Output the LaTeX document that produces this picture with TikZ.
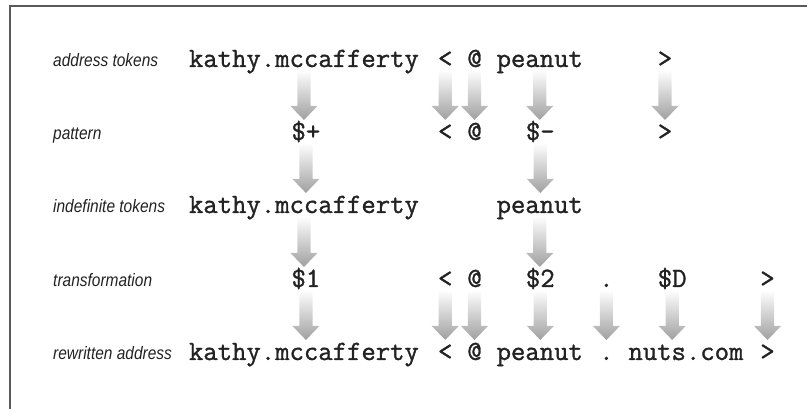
\documentclass[tikz,border=0pt]{standalone}
\usepackage{fontspec}
\usetikzlibrary{calc}
\newfontfamily\tokfont[FakeBold=1.2]{Latin Modern Mono}
\newfontfamily\lblfont[FakeStretch=0.86]{Liberation Sans}
\definecolor{inkc}{HTML}{222222}
\definecolor{framec}{HTML}{5A5A5A}
\definecolor{arrowend}{HTML}{A0A0A0}

% shaded down-arrow from one token to the token below it
\newcommand\shadearrow[2]{%
  \path[arrowfill] let \p1=(#1.base), \p2=(#2.base) in
    (\x1-6.6pt,\y1-3pt) -- (\x1+6.6pt,\y1-3pt) -- (\x1+6.6pt,\y2+34pt)
    -- (\x1+13.5pt,\y2+34pt) -- (\x1,\y2+20pt) -- (\x1-13.5pt,\y2+34pt)
    -- (\x1-6.6pt,\y2+34pt) -- cycle;}

\begin{document}
\begin{tikzpicture}[x=1pt,y=1pt,
  tok/.style={font=\tokfont\fontsize{27.9}{30}\selectfont,
    text=inkc, inner sep=0pt, outer sep=0pt, anchor=base west},
  lbl/.style={font=\lblfont\itshape\fontsize{18}{20}\selectfont,
    text=inkc, inner sep=0pt, anchor=base west},
  arrowfill/.style={top color=white, bottom color=arrowend, draw=none},
  frameline/.style={draw=framec, line width=1.8pt}]
\useasboundingbox (0,0) rectangle (807,409);

% frame (top and left edges)
\draw[frameline] (807,403) -- (10,403) -- (10,0);

% column pitch of the monospace grid
\def\cw{14.65}
\def\xo{189}

% row labels
\node[lbl] (l1) at (53,342) {address tokens};
\node[lbl] (l2) at (53,269) {pattern};
\node[lbl] (l3) at (53,196) {indefinite tokens};
\node[lbl] (l4) at (53,122) {transformation};
\node[lbl] (l5) at (53,49)  {rewritten address};

% address tokens
\node[tok] (a1) at (\xo+0*\cw,342)  {kathy.mccafferty};
\node[tok] (a2) at (\xo+17*\cw,342) {<};
\node[tok] (a3) at (\xo+19*\cw,342) {@};
\node[tok] (a4) at (\xo+21*\cw,342) {peanut};
\node[tok] (a5) at (\xo+32*\cw,342) {>};

% pattern
\node[tok] (p1) at (\xo+7*\cw,269)  {\$+};
\node[tok] (p2) at (\xo+17*\cw,269) {<};
\node[tok] (p3) at (\xo+19*\cw,269) {@};
\node[tok] (p4) at (\xo+23*\cw,269) {\$-};
\node[tok] (p5) at (\xo+32*\cw,269) {>};

% indefinite tokens
\node[tok] (d1) at (\xo+0*\cw,196)  {kathy.mccafferty};
\node[tok] (d2) at (\xo+21*\cw,196) {peanut};

% transformation
\node[tok] (t1) at (\xo+7*\cw,122)  {\$1};
\node[tok] (t2) at (\xo+17*\cw,122) {<};
\node[tok] (t3) at (\xo+19*\cw,122) {@};
\node[tok] (t4) at (\xo+23*\cw,122) {\$2};
\node[tok] (t5) at (\xo+28*\cw,122) {.};
\node[tok] (t6) at (\xo+32*\cw,122) {\$D};
\node[tok] (t7) at (\xo+39*\cw,122) {>};

% rewritten address
\node[tok] (r1) at (\xo+0*\cw,49)  {kathy.mccafferty};
\node[tok] (r2) at (\xo+17*\cw,49) {<};
\node[tok] (r3) at (\xo+19*\cw,49) {@};
\node[tok] (r4) at (\xo+21*\cw,49) {peanut};
\node[tok] (r5) at (\xo+28*\cw,49) {.};
\node[tok] (r6) at (\xo+30*\cw,49) {nuts.com};
\node[tok] (r7) at (\xo+39*\cw,49) {>};

% arrows
\shadearrow{a1}{p1}
\shadearrow{a2}{p2}
\shadearrow{a3}{p3}
\shadearrow{a4}{p4}
\shadearrow{a5}{p5}
\shadearrow{p1}{d1}
\shadearrow{p4}{d2}
\shadearrow{d1}{t1}
\shadearrow{d2}{t4}
\shadearrow{t1}{r1}
\shadearrow{t2}{r2}
\shadearrow{t3}{r3}
\shadearrow{t4}{r4}
\shadearrow{t5}{r5}
\shadearrow{t6}{r6}
\shadearrow{t7}{r7}
\end{tikzpicture}
\end{document}
